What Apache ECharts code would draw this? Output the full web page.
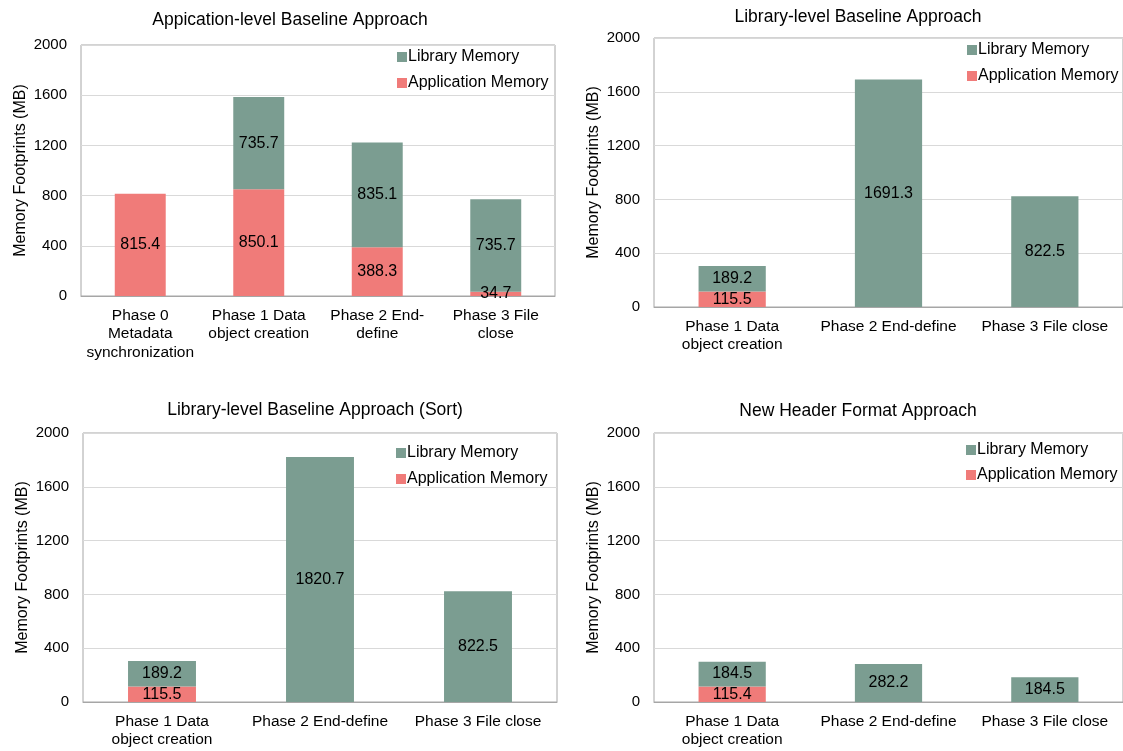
<!DOCTYPE html>
<html>
<head>
<meta charset="utf-8">
<script src="https://cdn.jsdelivr.net/npm/echarts@6/dist/echarts.min.js"></script>
<style>html,body{margin:0;padding:0;background:#fff}#c{width:1123px;height:751px}</style>
</head>
<body>
<div id="c"></div>
<script>
const titles = ['Appication-level Baseline Approach', 'Library-level Baseline Approach', 'Library-level Baseline Approach (Sort)', 'New Header Format Approach'];
const cats1 = ['Phase 0\nMetadata\nsynchronization', 'Phase 1 Data\nobject creation', 'Phase 2 End-\ndefine', 'Phase 3 File\nclose'];
const cats2 = ['Phase 1 Data\nobject creation', 'Phase 2 End-define', 'Phase 3 File close'];
const app1 = [815.4, 850.1, 388.3, 34.7];
const lib1 = [null, 735.7, 835.1, 735.7];
const app2 = [115.5, null, null];
const lib2 = [189.2, 1691.3, 822.5];
const app3 = [115.5, null, null];
const lib3 = [189.2, 1820.7, 822.5];
const app4 = [115.4, null, null];
const lib4 = [184.5, 282.2, 184.5];
const yTicks = [0, 400, 800, 1200, 1600, 2000];
const yName = 'Memory Footprints (MB)';
const libName = 'Library Memory';
const appName = 'Application Memory';

const FONT = '"Liberation Sans", Arial, sans-serif';
const GREEN = '#7b9d91';
const RED = '#f07b79';

const grids = [
  {left: 81, top: 45, width: 474, height: 251},
  {left: 654, top: 38, width: 475, height: 269},
  {left: 83, top: 433, width: 474, height: 269},
  {left: 654, top: 433, width: 475, height: 269}
];
const titlePos = [[285, 6], [853, 3], [310, 396], [853, 397]];
const legendPos = [[392, 44], [962, 37], [391, 440], [961, 437]];
const legendGap = [10, 10, 10, 9];
const catsList = [cats1, cats2, cats2, cats2];
const appList = [app1, app2, app3, app4];
const libList = [lib1, lib2, lib3, lib4];

const labelCfg = {
  show: true, position: 'inside', color: '#000', fontSize: 16, fontFamily: FONT,
  formatter: p => (p.value == null ? '' : Number(p.value).toFixed(1))
};

const option = {
  animation: false,
  backgroundColor: '#fff',
  title: titles.map((t, i) => ({
    text: t, left: titlePos[i][0], top: titlePos[i][1], textAlign: 'center',
    textStyle: {fontFamily: FONT, fontSize: 17.5, fontWeight: 'normal', color: '#000'}
  })),
  legend: grids.map((g, i) => ({
    data: [libName, appName], orient: 'vertical', left: legendPos[i][0], top: legendPos[i][1],
    itemWidth: 10, itemHeight: 10, itemGap: legendGap[i], icon: 'rect',
    textStyle: {fontFamily: FONT, fontSize: 16, color: '#000', padding: [0, 0, 0, -4]},
    selectedMode: false
  })),
  grid: grids.map(g => Object.assign({show: true, borderColor: '#a6a6a6', borderWidth: 1, backgroundColor: 'transparent'}, g)),
  xAxis: grids.map((g, i) => ({
    type: 'category', gridIndex: i, data: catsList[i],
    axisLine: {show: true, lineStyle: {color: '#a6a6a6'}},
    axisTick: {show: false},
    axisLabel: {fontFamily: FONT, fontSize: 15.5, color: '#000', lineHeight: 18.5, margin: 10, interval: 0}
  })),
  yAxis: grids.map((g, i) => ({
    type: 'value', gridIndex: i, min: 0, max: 2000, interval: 400,
    name: yName, nameLocation: 'middle', nameGap: 52,
    nameTextStyle: {fontFamily: FONT, fontSize: 16, color: '#000'},
    axisLine: {show: false}, axisTick: {show: false},
    axisLabel: {fontFamily: FONT, fontSize: 15, color: '#000', margin: 14,
      formatter: v => (yTicks.indexOf(v) >= 0 ? String(v) : '')},
    splitLine: {show: true, lineStyle: {color: '#d9d9d9', width: 1}}
  })),
  series: []
};

grids.forEach((g, i) => {
  option.series.push({
    name: appName, type: 'bar', xAxisIndex: i, yAxisIndex: i, stack: 's' + i,
    data: appList[i], barWidth: '43%', itemStyle: {color: RED}, label: labelCfg
  });
  option.series.push({
    name: libName, type: 'bar', xAxisIndex: i, yAxisIndex: i, stack: 's' + i,
    data: libList[i], barWidth: '43%', itemStyle: {color: GREEN}, label: labelCfg
  });
});

const chart = echarts.init(document.getElementById('c'), null, {renderer: 'canvas'});
chart.setOption(option);
</script>
</body>
</html>
